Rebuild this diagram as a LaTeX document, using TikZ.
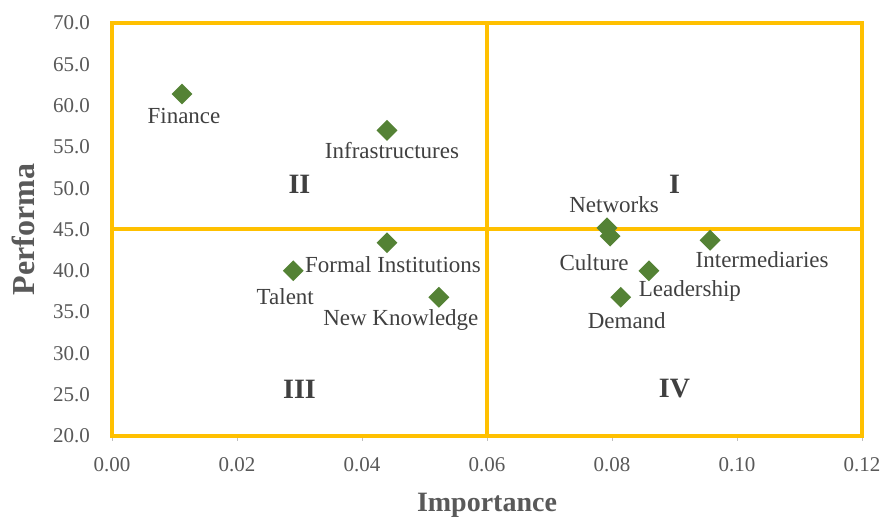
\documentclass[tikz,border=0pt]{standalone}
\usepackage{fontspec}
\setmainfont{Liberation Serif}
\usepackage{tikz}
\usetikzlibrary{shapes.geometric}
\usetikzlibrary{positioning}

\definecolor{quadline}{HTML}{FFC000}
\definecolor{markgreen}{HTML}{548235}
\definecolor{axisgray}{HTML}{BFBFBF}
\definecolor{labelgray}{HTML}{404040}
\definecolor{tickgray}{HTML}{595959}

\pgfkeys{/pgf/number format/assume math mode=true}

\begin{document}
\begin{tikzpicture}[
            x = 62.5pt, % 0.01 of importance
            y = 8.26pt, % 1.0 of performance
            line join = miter
        ]

        \tikzstyle{marker}=[
            diamond,
            fill = markgreen,
            inner sep = 0pt,
            minimum size = 21pt
        ]
        \tikzstyle{ptlabel}=[anchor = base, inner sep = 0pt, text = labelgray,
            font = \fontsize{23}{23}\selectfont]
        \tikzstyle{ticklabel}=[inner sep = 0pt, text = tickgray,
            font = \fontsize{21}{21}\selectfont]
        \tikzstyle{quadlabel}=[text = labelgray, font = \fontsize{28}{28}\selectfont\bfseries]
        \tikzstyle{axistitle}=[anchor = base, inner sep = 0pt, text = tickgray]

        \useasboundingbox (-112pt,84.2pt) rectangle (770pt,601.2pt);

        % axes
        \draw[axisgray, line width = 1pt] (0,70) -- (0,20) -- (12,20);
        \foreach \x in {0,2,...,12}
            \draw[axisgray, line width = 1pt] (\x,20) -- ++(0,-5pt);

        % quadrants
        \draw[quadline, line width = 4pt] (0,20) rectangle (12,70);
        \draw[quadline, line width = 4pt] (6,20) -- (6,70);
        \draw[quadline, line width = 4pt] (0,45) -- (12,45);

        % tick labels
        \foreach \y in {20,25,...,70}
            \node[ticklabel, anchor = east] (ytick\y) at ([xshift=-22pt]0,\y)
                {\pgfmathprintnumber[fixed, fixed zerofill, precision=1]{\y}};
        \foreach \x in {0,2,...,12} {
            \pgfmathsetmacro{\xval}{\x/100}
            \node[ticklabel, anchor = north] (xtick\x) at ([yshift=-21pt]\x,20)
                {\pgfmathprintnumber[fixed, fixed zerofill, precision=2]{\xval}};
        }

        \node[axistitle, font = \fontsize{28}{28}\selectfont\bfseries] (xtitle) at ([yshift=-75pt]6,20) {Importance};
        \node[axistitle, rotate = 90, font = \fontsize{32}{32}\selectfont\bfseries] (ytitle) at ([xshift=-77pt]0,45) {Performa};

        \node[quadlabel] (q1) at (9,50.5) {I};
        \node[quadlabel] (q2) at (3,50.5) {II};
        \node[quadlabel] (q3) at (3,25.7) {III};
        \node[quadlabel] (q4) at (9,25.7) {IV};

        % data points
        \node[marker] (finance) at (1.12,61.4) {};
        \node[marker] (infra) at (4.40,57.0) {};
        \node[marker] (formal) at (4.40,43.4) {};
        \node[marker] (talent) at (2.90,40.0) {};
        \node[marker] (newknow) at (5.23,36.8) {};
        \node[marker] (networks) at (7.92,45.2) {};
        \node[marker] (culture) at (7.97,44.2) {};
        \node[marker] (intermed) at (9.57,43.7) {};
        \node[marker] (leader) at (8.59,40.0) {};
        \node[marker] (demand) at (8.14,36.8) {};

        \node[ptlabel] (finance-l) at ([shift={(2pt,-29pt)}]finance) {Finance};
        \node[ptlabel] (infra-l) at ([shift={(5pt,-28pt)}]infra) {Infrastructures};
        \node[ptlabel] (formal-l) at ([shift={(6pt,-30pt)}]formal) {Formal Institutions};
        \node[ptlabel] (talent-l) at ([shift={(-8pt,-34pt)}]talent) {Talent};
        \node[ptlabel] (newknow-l) at ([shift={(-38pt,-28pt)}]newknow) {New Knowledge};
        \node[ptlabel] (networks-l) at ([shift={(7pt,15pt)}]networks) {Networks};
        \node[ptlabel] (culture-l) at ([shift={(-16pt,-34pt)}]culture) {Culture};
        \node[ptlabel] (intermed-l) at ([shift={(52pt,-27pt)}]intermed) {Intermediaries};
        \node[ptlabel] (leader-l) at ([shift={(41pt,-26pt)}]leader) {Leadership};
        \node[ptlabel] (demand-l) at ([shift={(6pt,-31pt)}]demand) {Demand};

  \end{tikzpicture}
\end{document}
